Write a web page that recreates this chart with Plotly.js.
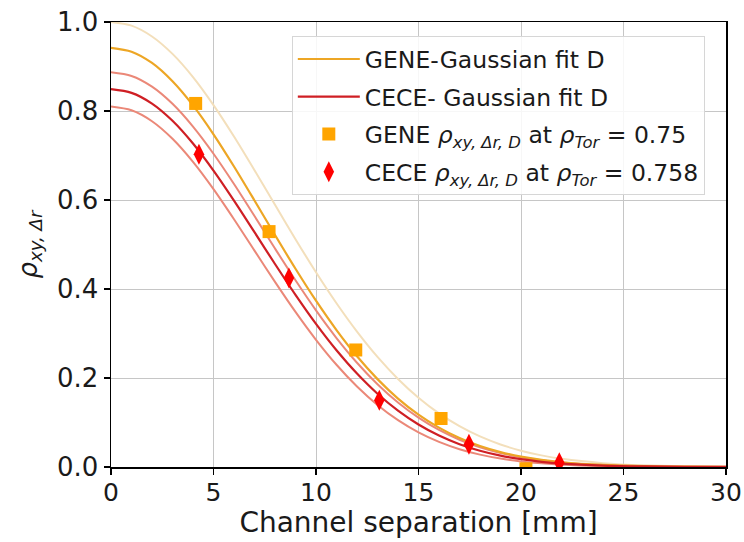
<!DOCTYPE html>
<html>
<head>
<meta charset="utf-8">
<script src="https://cdn.plot.ly/plotly-3.0.1.min.js"></script>
<style>html,body{margin:0;padding:0;background:#fff;}#chart{width:744px;height:542px;}</style>
</head>
<body>
<div id="chart"></div>
<script>
// Channel separation grid for fit curves [mm]
const xFit = [0, 1, 2, 3, 4, 5, 6, 7, 8, 9, 10, 11, 12, 13, 14, 15, 16, 17, 18, 19, 20, 21, 22, 24, 26, 28, 30];
// GENE Gaussian fit (main) and its upper band
const geneFit      = [0.942, 0.9333, 0.908, 0.8668, 0.8125, 0.7476, 0.6753, 0.5988, 0.5213, 0.4455, 0.3737, 0.3078, 0.2488, 0.1975, 0.1538, 0.1176, 0.0884, 0.0651, 0.0471, 0.0335, 0.0233, 0.0160, 0.0107, 0.0046, 0.0018, 0.0007, 0.0002];
const geneFitUpper = [1.000, 0.9918, 0.9675, 0.9283, 0.8762, 0.8133, 0.7427, 0.6670, 0.5893, 0.5120, 0.4376, 0.3679, 0.3042, 0.2474, 0.1979, 0.1557, 0.1205, 0.0918, 0.0687, 0.0506, 0.0367, 0.0261, 0.0183, 0.0086, 0.0037, 0.0015, 0.0006];
// CECE Gaussian fit (main) and its band
const ceceFit      = [0.849, 0.8408, 0.8167, 0.7780, 0.7269, 0.6661, 0.5986, 0.5276, 0.4562, 0.3868, 0.3216, 0.2623, 0.2099, 0.1646, 0.1267, 0.0956, 0.0707, 0.0513, 0.0366, 0.0255, 0.0175, 0.0117, 0.0077, 0.0032, 0.0012, 0.0004, 0.0001];
const ceceFitUpper = [0.887, 0.8788, 0.8548, 0.8162, 0.7650, 0.7040, 0.6359, 0.5639, 0.4909, 0.4195, 0.3519, 0.2898, 0.2343, 0.1859, 0.1448, 0.1108, 0.0832, 0.0613, 0.0444, 0.0315, 0.0220, 0.0150, 0.0101, 0.0043, 0.0017, 0.0006, 0.0002];
const ceceFitLower = [0.810, 0.8016, 0.7770, 0.7375, 0.6857, 0.6244, 0.5568, 0.4863, 0.4160, 0.3485, 0.2859, 0.2298, 0.1809, 0.1394, 0.1052, 0.0778, 0.0564, 0.0400, 0.0278, 0.0189, 0.0126, 0.0082, 0.0052, 0.0020, 0.0007, 0.0002, 0.0001];
// Measured points
const geneX = [4.13, 7.71, 11.94, 16.1, 20.24];
const geneY = [0.817, 0.529, 0.263, 0.109, -0.004];
const geneErr = [0.012, 0.01, 0.01, 0.01, 0.01];
const ceceX = [4.29, 8.68, 13.09, 17.46, 21.87];
const ceceY = [0.703, 0.425, 0.150, 0.051, 0.0097];
const ceceErr = [0.012, 0.01, 0.01, 0.01, 0.01];

const FONT = 'DejaVu Sans, sans-serif';

const traces = [
  {x: xFit, y: geneFitUpper, mode: 'lines', line: {color: '#f3dfbb', width: 2, shape: 'spline', smoothing: 0.8}, showlegend: false, hoverinfo: 'skip'},
  {x: xFit, y: ceceFitUpper, mode: 'lines', line: {color: '#eb8878', width: 2, shape: 'spline', smoothing: 0.8}, showlegend: false, hoverinfo: 'skip'},
  {x: xFit, y: ceceFitLower, mode: 'lines', line: {color: '#eb8878', width: 2, shape: 'spline', smoothing: 0.8}, showlegend: false, hoverinfo: 'skip'},
  {x: xFit, y: geneFit, mode: 'lines', name: 'GENE-Gaussian fit D', legendgroup: 'a',
   line: {color: '#eda625', width: 2.2, shape: 'spline', smoothing: 0.8}},
  {x: xFit, y: ceceFit, mode: 'lines', name: 'CECE- Gaussian fit D', legendgroup: 'b',
   line: {color: '#cf1f24', width: 2.2, shape: 'spline', smoothing: 0.8}},
  {x: geneX, y: geneY, mode: 'markers', legendgroup: 'c',
   name: 'GENE <i>ρ</i><sub><i>xy, Δr, D</i></sub> at <i>ρ</i><sub><i>Tor</i></sub> = 0.75',
   marker: {symbol: 'square', size: 13, color: '#ffa500'},
   error_y: {type: 'data', array: geneErr, color: '#ffa500', thickness: 2, width: 0}},
  {x: ceceX, y: ceceY, mode: 'markers', legendgroup: 'd',
   name: 'CECE <i>ρ</i><sub><i>xy, Δr, D</i></sub> at <i>ρ</i><sub><i>Tor</i></sub> = 0.758',
   marker: {symbol: 'diamond-tall', size: 15, color: '#ff0000'},
   error_y: {type: 'data', array: ceceErr, color: '#ff0000', thickness: 2, width: 0}}
];

const layout = {
  width: 744, height: 542,
  margin: {l: 111, r: 18, t: 22, b: 75},
  paper_bgcolor: '#ffffff', plot_bgcolor: '#ffffff',
  font: {family: FONT, color: '#1a1a1a'},
  xaxis: {
    range: [0, 30], tickvals: [0, 5, 10, 15, 20, 25, 30],
    ticks: 'outside', ticklen: 6, tickwidth: 1.5, tickcolor: '#000',
    showline: true, linecolor: '#000', linewidth: 1.5, mirror: true,
    showgrid: true, gridcolor: '#c6c6c6', gridwidth: 1, zeroline: false,
    tickfont: {size: 25, family: FONT, color: '#1a1a1a'},
    ticklabelstandoff: -4,
    title: {text: 'Channel separation [mm]', font: {size: 28, family: FONT, color: '#1a1a1a'}, standoff: 2}
  },
  yaxis: {
    range: [0, 1.0], tickvals: [0, 0.2, 0.4, 0.6, 0.8, 1.0], ticktext: ['0.0', '0.2', '0.4', '0.6', '0.8', '1.0'],
    ticks: 'outside', ticklen: 6, tickwidth: 1.5, tickcolor: '#000',
    showline: true, linecolor: '#000', linewidth: 1.5, mirror: true,
    showgrid: true, gridcolor: '#c6c6c6', gridwidth: 1, zeroline: false,
    tickfont: {size: 26, family: FONT, color: '#1a1a1a'},
    title: {text: '<i>ρ</i><sub><i>xy, Δr</i></sub>', font: {size: 26, family: FONT, color: '#1a1a1a'}, standoff: 12}
  },
  legend: {
    x: 0.294, y: 0.968, xanchor: 'left', yanchor: 'top',
    bgcolor: 'rgba(255,255,255,0.85)', bordercolor: '#d6d6d6', borderwidth: 1,
    font: {size: 23.5, family: FONT, color: '#1a1a1a'},
    traceorder: 'grouped', tracegroupgap: 4, itemwidth: 62
  },
  showlegend: true
};

Plotly.newPlot('chart', traces, layout, {displayModeBar: false, staticPlot: true});
</script>
</body>
</html>
